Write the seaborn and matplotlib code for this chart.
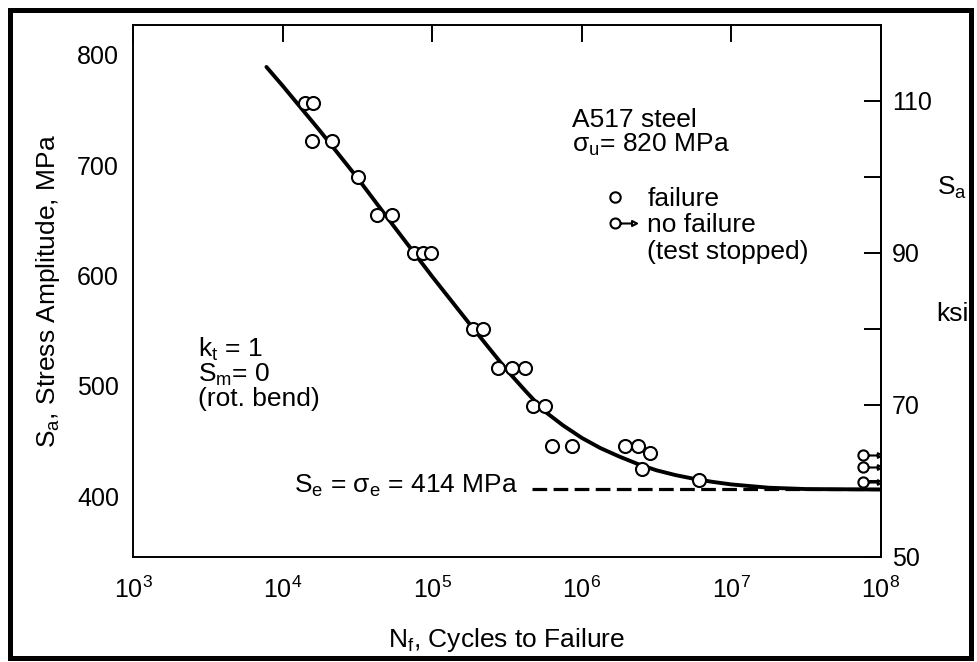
import numpy as np
import pandas as pd
import matplotlib
matplotlib.use("Agg")
import matplotlib.pyplot as plt
import seaborn as sns
from matplotlib.path import Path
from matplotlib.markers import MarkerStyle
from matplotlib.lines import Line2D
from matplotlib.patches import Rectangle
from matplotlib.ticker import NullLocator

# ---------------- data ----------------
fail_N = [14100, 15900, 15800, 21300, 31700, 42500, 53600, 75900, 86300, 98200,
          186600, 219800, 276900, 339900, 417000, 469500, 567600, 629000, 855000,
          1945000, 2364000, 2860000, 2510000, 6100000]
fail_S = [756, 756, 722, 722, 689, 655, 655, 620.5, 620.5, 620.5,
          551.8, 551.8, 516.5, 516.5, 516.5, 481.2, 481.2, 445.5, 445.5,
          445.5, 445.5, 438.9, 424.4, 414.8]
runout_N = [7.62e7, 7.62e7, 7.62e7]
runout_S = [437, 426, 412.5]
curve_N = [7800, 1e4, 1.78e4, 3.16e4, 5.62e4, 1e5, 1.78e5, 3.16e5, 4.22e5, 5.62e5,
           7.5e5, 1e6, 1.33e6, 1.78e6, 2.37e6, 3.16e6, 4.22e6, 5.62e6, 7.5e6,
           1e7, 1.78e7, 3.16e7, 1e8]
curve_S = [789, 772, 731, 688.5, 643.5, 599, 556, 514, 495, 477,
           464, 452.7, 443.5, 435.8, 429, 423.3, 419, 415.6, 412.8,
           410.5, 407.5, 406.3, 405.9]
endurance_N = [4.62e5, 1e8]
endurance_S = [406.3, 406.3]

x_ticks = [1e3, 1e4, 1e5, 1e6, 1e7, 1e8]
y_ticks = [400, 500, 600, 700, 800]
ksi_ticks = [50, 60, 70, 80, 90, 100, 110]
ksi_labels = ["50", "", "70", "", "90", "", "110"]
MPA_PER_KSI = 6.895

# ---------------- style ----------------
sns.set_theme(style="white")
plt.rcParams["font.family"] = ["Liberation Sans", "DejaVu Sans"]
plt.rcParams["mathtext.fontset"] = "custom"
plt.rcParams["mathtext.rm"] = "Liberation Sans"
plt.rcParams["mathtext.it"] = "Liberation Sans:italic"
for k in ["text.color", "axes.labelcolor", "xtick.color", "ytick.color", "axes.edgecolor"]:
    plt.rcParams[k] = "black"
plt.rcParams["axes.linewidth"] = 1.4

FS = 19
TFS = 18

def runout_path(line_end, tip, half):
    circle = Path.circle((0, 0), 1.0)
    line = Path([(1.0, 0), (line_end, 0)], [Path.MOVETO, Path.LINETO])
    tri = Path([(line_end - 0.1, half), (tip, 0), (line_end - 0.1, -half), (line_end - 0.1, half)],
               [Path.MOVETO, Path.LINETO, Path.LINETO, Path.CLOSEPOLY])
    return Path.make_compound_path(circle, line, tri)

data_runout_marker = MarkerStyle(runout_path(2.9, 3.6, 0.45))
legend_runout_marker = MarkerStyle(runout_path(3.4, 4.3, 0.5))

fig = plt.figure(figsize=(9.77, 6.62), dpi=100)
ax = fig.add_axes([0.1361, 0.1586, 0.7656, 0.8036])

# S-N curve
sns.lineplot(x=curve_N, y=curve_S, ax=ax, color="black", lw=2.8,
             sort=False, estimator=None, zorder=2)
# endurance limit dashed line
sns.lineplot(x=endurance_N, y=endurance_S, ax=ax, color="black", lw=2.3,
             linestyle=(0, (4.6, 2.0)), sort=False, estimator=None, zorder=2)
# failures
sns.scatterplot(x=fail_N, y=fail_S, ax=ax, marker="o", s=88, color="white",
                edgecolor="black", linewidth=1.5, zorder=3)
# run-outs
sns.scatterplot(x=runout_N, y=runout_S, ax=ax, marker=data_runout_marker, s=700,
                color="white", edgecolor="black", linewidth=1.5, zorder=3)

ax.set_xscale("log")
ax.set_xlim(1e3, 1e8)
ax.set_ylim(344.7, 827)
ax.set_xticks(x_ticks)
ax.xaxis.set_minor_locator(NullLocator())
ax.set_yticks(y_ticks)
ax.tick_params(axis="both", which="major", direction="in", length=12, width=1.4,
               labelsize=TFS, top=True, right=False, colors="black")
ax.tick_params(axis="x", pad=14)
ax.tick_params(axis="y", pad=10)
for sp in ax.spines.values():
    sp.set_linewidth(1.4)
    sp.set_color("black")

ax.set_xlabel(r"N$_\mathregular{f}$, Cycles to Failure", fontsize=FS, labelpad=17)
ax.set_ylabel(r"S$_\mathregular{a}$, Stress Amplitude, MPa", fontsize=FS, labelpad=11)

sec = ax.secondary_yaxis("right", functions=(lambda s: s / MPA_PER_KSI,
                                             lambda k: k * MPA_PER_KSI))
sec.set_yticks(ksi_ticks, labels=ksi_labels)
sec.tick_params(direction="in", length=12, width=1.4, labelsize=TFS, pad=8, colors="black")
sec.spines["right"].set_linewidth(1.4)
sec.spines["right"].set_color("black")

tr = ax.transAxes
ax.text(1.095, 0.694, r"S$_\mathregular{a}$", transform=tr, ha="center", va="center", fontsize=FS)
ax.text(1.096, 0.457, "ksi", transform=tr, ha="center", va="center", fontsize=FS)

ax.text(0.5865, 0.809, "A517 steel", transform=tr, ha="left", va="baseline", fontsize=FS)
ax.text(0.5865, 0.762, r"σ$_\mathregular{u}$= 820 MPa", transform=tr, ha="left", va="baseline", fontsize=FS)

ax.text(0.087, 0.376, r"k$_\mathregular{t}$ = 1", transform=tr, ha="left", va="baseline", fontsize=FS)
ax.text(0.087, 0.329, r"S$_\mathregular{m}$= 0", transform=tr, ha="left", va="baseline", fontsize=FS)
ax.text(0.087, 0.284, "(rot. bend)", transform=tr, ha="left", va="baseline", fontsize=FS)

ax.text(0.5147, 0.120, r"S$_\mathregular{e}$ = σ$_\mathregular{e}$ = 414 MPa", transform=tr,
        ha="right", va="baseline", fontsize=FS)

handles = [
    Line2D([], [], ls="none", marker="o", ms=7.5, mfc="white", mec="black", mew=1.5),
    Line2D([], [], ls="none", marker=legend_runout_marker, ms=31, mfc="white", mec="black", mew=1.5),
    Line2D([], [], ls="none"),
]
labels = ["failure", "no failure", "(test stopped)"]
ax.legend(handles, labels, loc="upper left", bbox_to_anchor=(0.624, 0.696),
          frameon=False, fontsize=FS, handlelength=1.15, handletextpad=0.65,
          labelspacing=0.1, borderpad=0, borderaxespad=0)

fig.patches.append(Rectangle((0.0102, 0.006), 0.9837, 0.979, transform=fig.transFigure,
                             fill=False, lw=3.6, ec="black"))

fig.savefig("out.png", dpi=100)
